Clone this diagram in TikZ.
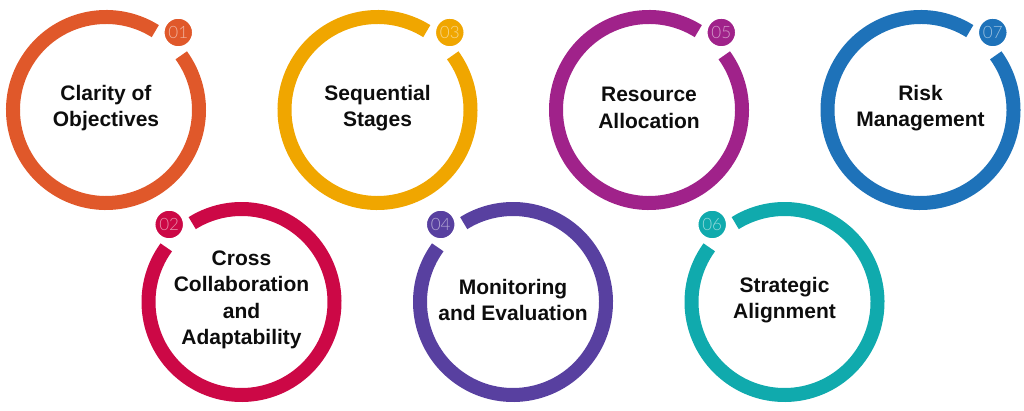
\documentclass[tikz,border=0pt]{standalone}
\usepackage{fontspec}
\setmainfont{Liberation Sans}
\newfontfamily\numfont{Lato Light}
\usetikzlibrary{shadows}
\definecolor{clarity}{HTML}{E0582A}
\definecolor{crossc}{HTML}{CC0846}
\definecolor{seqst}{HTML}{F0A600}
\definecolor{monev}{HTML}{5840A0}
\definecolor{resall}{HTML}{A0228A}
\definecolor{stratal}{HTML}{10AAAD}
\definecolor{riskm}{HTML}{1E72B9}

\begin{document}
\begin{tikzpicture}[x=1pt,y=1pt,
		topic/.style={align=center,font=\bfseries\fontsize{21}{26.5}\selectfont,text=black!95,yshift=2pt},
		ring/.style={line width=14pt,draw=#1},
		badge/.style={circle,inner sep=0pt,minimum size=30pt,fill=#1,draw=white,line width=2.5pt,
			text=white!55!#1,font=\numfont\fontsize{17}{17}\selectfont,
			drop shadow={shadow xshift=0pt,shadow yshift=-0.6pt,opacity=.3}}]
	\useasboundingbox (0,0) rectangle (1024,410);
	\def\rmid{93};
	\def\rbadge{106};
	\foreach \cx/\cy/\col/\idx/\ang/\txt in {
			106/300/clarity/01/47/{Clarity of\\Objectives},
			241.5/108/crossc/02/133/{Cross\\Collaboration\\and\\Adaptability},
			377.5/300/seqst/03/47/{Sequential\\Stages},
			513/108/monev/04/133/{Monitoring\\and Evaluation},
			649/300/resall/05/47/{Resource\\Allocation},
			784.5/108/stratal/06/133/{Strategic\\Alignment},
			920.5/300/riskm/07/47/{Risk\\Management}}{
		\node[topic] (topic\idx) at (\cx,\cy) {\txt};
		\draw[ring=\col] (\cx,\cy) ++(\ang+11:\rmid)
			arc[start angle=\ang+11,end angle=\ang+349,radius=\rmid];
		\node[badge=\col] (badge\idx) at ([shift={(\ang:\rbadge)}]\cx,\cy) {\idx};
	}
\end{tikzpicture}
\end{document}
